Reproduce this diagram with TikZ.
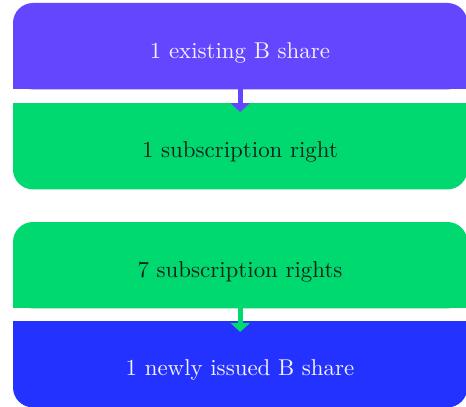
\documentclass[tikz,border=0pt]{standalone}
\usepackage{fontspec}
\setmainfont{lmroman10-regular}[Extension=.otf]
\usetikzlibrary{arrows.meta}
\definecolor{purp}{HTML}{6446FF}
\definecolor{grn}{HTML}{00D870}
\definecolor{blu}{HTML}{2432FF}
\definecolor{lighttxt}{HTML}{F4F2FF}
\definecolor{darktxt}{HTML}{12231A}
\begin{document}
\begin{tikzpicture}[x=1bp,y=1bp,
  boxnode/.style={minimum width=454bp, minimum height=86bp, inner sep=0pt, anchor=north west},
  label/.style={anchor=base, inner sep=0pt, font=\fontsize{23}{27}\selectfont},
  arr/.style={line width=5bp, -{Triangle[width=19bp,length=9bp]}}
]
\useasboundingbox (0,0) rectangle (466,406);
% boxes
\node[boxnode] (b1) at (13,403) {};
\node[boxnode] (b2) at (13,303) {};
\node[boxnode] (b3) at (13,184) {};
\node[boxnode] (b4) at (13,85) {};
% fills: top rounded / bottom rounded
\fill[purp, rounded corners=20bp] (b1.south west) rectangle (b1.north east);
\fill[purp] (b1.south west) rectangle (b1.east);
\fill[grn, rounded corners=20bp] (b2.south west) rectangle (b2.north east);
\fill[grn] (b2.west) rectangle (b2.north east);
\fill[grn, rounded corners=20bp] (b3.south west) rectangle (b3.north east);
\fill[grn] (b3.south west) rectangle (b3.east);
\fill[blu, rounded corners=20bp] (b4.south west) rectangle (b4.north east);
\fill[blu] (b4.west) rectangle (b4.north east);
% texts
\node[label, text=lighttxt] (t1) at (240,348) {1 existing B share};
\node[label, text=darktxt] (t2) at (240,249) {1 subscription right};
\node[label, text=darktxt] (t3) at (240,129) {7 subscription rights};
\node[label, text=lighttxt] (t4) at (240,31) {1 newly issued B share};
% arrows
\coordinate (a1) at ([yshift=-9bp]b2.north);
\coordinate (a2) at ([yshift=-11bp]b4.north);
\draw[arr, purp] (b1.south) -- (a1);
\draw[arr, grn] (b3.south) -- (a2);
\end{tikzpicture}
\end{document}
